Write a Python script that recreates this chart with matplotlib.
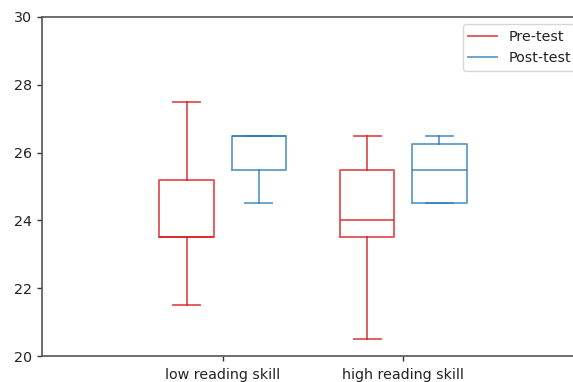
import matplotlib
matplotlib.use("Agg")
import matplotlib.pyplot as plt
import numpy as np

categories = ["low reading skill", "high reading skill"]
series = ["Pre-test", "Post-test"]
colors = ["#D7191C", "#2C7BB6"]

# box statistics: whislo, q1, median, q3, whishi
pre_whislo = [21.5, 20.5]
pre_q1 = [23.5, 23.5]
pre_med = [23.5, 24.0]
pre_q3 = [25.2, 25.5]
pre_whishi = [27.5, 26.5]

post_whislo = [24.5, 24.5]
post_q1 = [25.5, 24.5]
post_med = [26.5, 25.5]
post_q3 = [26.5, 26.25]
post_whishi = [26.5, 26.5]


def make_stats(lo, q1, med, q3, hi):
    return [dict(whislo=a, q1=b, med=c, q3=d, whishi=e, fliers=[])
            for a, b, c, d, e in zip(lo, q1, med, q3, hi)]


plt.rcParams["font.family"] = ["DejaVu Sans"]
fig = plt.figure(figsize=(5.73, 3.82), dpi=100)
ax = fig.add_axes([42 / 573, 1 - 356 / 382, (584 - 42) / 573, (356 - 17) / 382])

base = np.arange(len(categories)) * 2.0
groups = [
    make_stats(pre_whislo, pre_q1, pre_med, pre_q3, pre_whishi),
    make_stats(post_whislo, post_q1, post_med, post_q3, post_whishi),
]
offsets = [-0.4, 0.4]
LW = 1.3
ALPHA = 0.75
for stats, off, col, lab in zip(groups, offsets, colors, series):
    bp = ax.bxp(stats, positions=base + off, widths=0.6, showfliers=False,
                manage_ticks=False)
    for key in ["boxes", "whiskers", "caps", "medians"]:
        for artist in bp[key]:
            artist.set_color(col)
            artist.set_linewidth(LW)
            artist.set_alpha(ALPHA)
    ax.plot([], c=col, label=lab, lw=LW, alpha=ALPHA)

for sp in ax.spines.values():
    sp.set_color("#555555")
    sp.set_linewidth(1.2)
ax.tick_params(colors="#333333", width=1.0, labelcolor="#222222")

ax.set_xticks(base)
ax.set_xticklabels(categories, fontsize=10.3)
ax.set_xlim(-2, len(categories) * 2)
ax.set_ylim(20, 30)
ax.set_yticks([20, 22, 24, 26, 28, 30])
ax.tick_params(axis="y", labelsize=10.3)
ax.tick_params(axis="x", pad=5)
leg = ax.legend(loc="upper right", fontsize=10.3)
for t in leg.get_texts():
    t.set_color("#222222")

fig.savefig("out.png", dpi=100)
